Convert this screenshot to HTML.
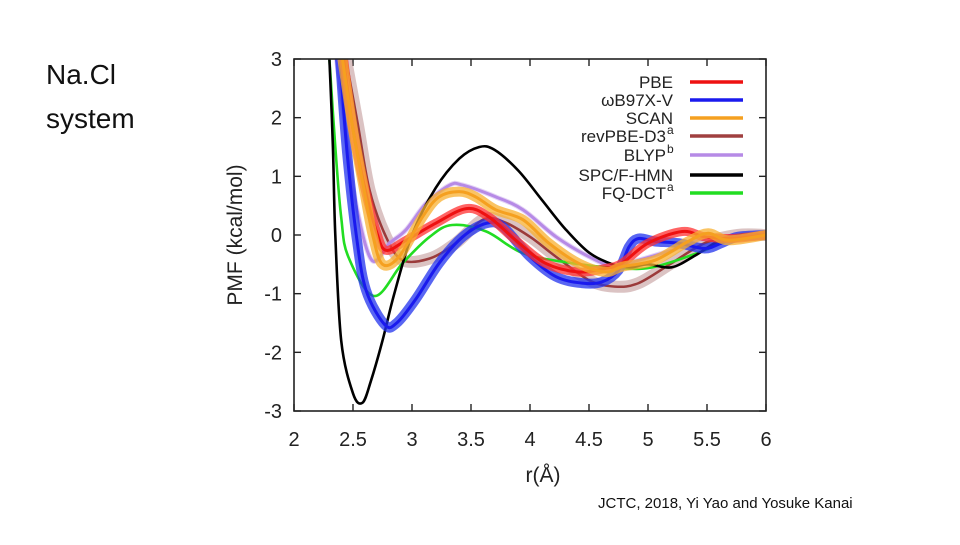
<!DOCTYPE html>
<html><head><meta charset="utf-8"><style>
body{margin:0;background:#fff;}
svg text{font-family:"Liberation Sans",sans-serif;}
</style></head><body>
<svg id="chart" width="960" height="540" viewBox="0 0 960 540" xmlns="http://www.w3.org/2000/svg">
<text x="46" y="84" font-size="28" fill="#111">Na.Cl</text>
<text x="46" y="128" font-size="28" fill="#111">system</text>
<text x="598" y="508" font-size="15" fill="#111">JCTC, 2018, Yi Yao and Yosuke Kanai</text>
<defs><clipPath id="clip"><rect x="294" y="59" width="472" height="352"/></clipPath></defs>
<g id="axes"></g>
<g id="series" clip-path="url(#clip)"></g>
<rect x="294" y="59" width="472" height="352" fill="none" stroke="#222" stroke-width="1.6"/>
<g id="legend"></g>
<text x="543" y="482" font-size="21" text-anchor="middle" fill="#222">r(Å)</text>
<text transform="translate(242,235) rotate(-90)" font-size="21" text-anchor="middle" fill="#222">PMF (kcal/mol)</text>
</svg>
<script>
const xTicks=[2,2.5,3,3.5,4,4.5,5,5.5,6];
const xTickLabels=["2","2.5","3","3.5","4","4.5","5","5.5","6"];
const yTicks=[-3,-2,-1,0,1,2,3];
const yTickLabels=["-3","-2","-1","0","1","2","3"];
const pbeX=[2.42,2.5,2.6,2.7,2.78,2.95,3.2,3.46,3.65,3.88,4.13,4.41,4.64,4.78,5.0,5.29,5.48,5.71,6];
const pbeY=[3,1.8,0.8,0.05,-0.26,-0.09,0.2,0.45,0.31,-0.09,-0.48,-0.63,-0.57,-0.48,-0.14,0.06,-0.03,-0.06,0];
const wbX=[2.39,2.45,2.53,2.61,2.77,2.87,3.03,3.23,3.43,3.63,3.77,4.0,4.22,4.44,4.61,4.75,4.84,4.92,5.06,5.26,5.48,5.62,5.76,6];
const wbY=[3,1.4,-0.03,-0.94,-1.53,-1.5,-1.1,-0.48,-0.03,0.2,0.14,-0.37,-0.71,-0.82,-0.8,-0.6,-0.2,-0.06,-0.11,-0.14,-0.23,-0.14,-0.03,0];
const scanX=[2.41,2.5,2.6,2.67,2.75,2.89,3.09,3.23,3.4,3.54,3.71,3.94,4.16,4.41,4.64,4.78,5.06,5.34,5.51,5.68,6];
const scanY=[3,1.8,0.7,-0.03,-0.5,-0.37,0.31,0.65,0.74,0.65,0.43,0.26,-0.14,-0.48,-0.63,-0.54,-0.43,-0.11,0.03,-0.09,0];
const revX=[2.44,2.54,2.64,2.78,2.92,3.15,3.37,3.6,3.77,4.0,4.22,4.5,4.72,4.92,5.2,5.48,5.76,6];
const revY=[3,1.9,0.77,-0.03,-0.43,-0.4,-0.14,0.26,0.23,-0.03,-0.37,-0.77,-0.88,-0.82,-0.48,-0.14,0,0];
const blypX=[2.36,2.45,2.53,2.66,2.81,2.95,3.12,3.32,3.43,3.71,3.94,4.22,4.5,4.72,4.92,5.2,5.48,6];
const blypY=[3,1.6,0.48,-0.43,-0.14,0.09,0.54,0.85,0.85,0.65,0.43,-0.03,-0.37,-0.54,-0.43,-0.26,-0.06,0];
const spcX=[2.3,2.33,2.35,2.4,2.5,2.58,2.65,2.75,2.85,3.0,3.2,3.4,3.57,3.7,3.9,4.1,4.3,4.5,4.7,4.85,5.0,5.2,5.4,5.6,5.8,6];
const spcY=[3,1.5,0,-1.8,-2.7,-2.86,-2.5,-1.8,-1.0,0,0.8,1.3,1.5,1.45,1.1,0.6,0.1,-0.3,-0.5,-0.55,-0.5,-0.55,-0.35,-0.1,0,0];
const fqX=[2.3,2.35,2.4,2.46,2.68,2.92,3.15,3.34,3.63,3.94,4.36,4.78,5.06,5.48,5.76,6];
const fqY=[3,1.5,0.3,-0.37,-1.04,-0.48,-0.03,0.17,0.06,-0.31,-0.48,-0.57,-0.54,-0.26,0,0];

const NS="http://www.w3.org/2000/svg";
const X0=294,X1=766,Y0=411,Y1=59;
function sx(v){return X0+(v-2)/4*(X1-X0);}
function sy(v){return Y0-(v+3)/6*(Y0-Y1);}
function pathFrom(xs,ys){
  const p=xs.map((x,i)=>[sx(x),sy(ys[i])]);
  let d="M"+p[0][0].toFixed(1)+","+p[0][1].toFixed(1);
  for(let i=0;i<p.length-1;i++){
    const a=p[Math.max(0,i-1)],b=p[i],c=p[i+1],e=p[Math.min(p.length-1,i+2)];
    const c1=[b[0]+(c[0]-a[0])/6,b[1]+(c[1]-a[1])/6],c2=[c[0]-(e[0]-b[0])/6,c[1]-(e[1]-b[1])/6];
    d+=" C"+c1.map(v=>v.toFixed(1))+" "+c2.map(v=>v.toFixed(1))+" "+c[0].toFixed(1)+","+c[1].toFixed(1);
  }
  return d;
}
const axes=document.getElementById('axes');
xTicks.forEach((t,i)=>{
  const l=document.createElementNS(NS,'line');
  l.setAttribute('x1',sx(t));l.setAttribute('x2',sx(t));l.setAttribute('y1',Y0);l.setAttribute('y2',Y0-7);
  l.setAttribute('stroke','#222');l.setAttribute('stroke-width','1.4');
  
  
  axes.appendChild(l);
  const l2=l.cloneNode();l2.setAttribute('y1',Y1);l2.setAttribute('y2',Y1+7);axes.appendChild(l2);
  const tx=document.createElementNS(NS,'text');
  tx.setAttribute('x',sx(t));tx.setAttribute('y',Y0+35);tx.setAttribute('font-size','20');tx.setAttribute('text-anchor','middle');tx.setAttribute('fill','#222');
  
  
  tx.textContent=xTickLabels[i];axes.appendChild(tx);
});
yTicks.forEach((t,i)=>{
  const l=document.createElementNS(NS,'line');
  l.setAttribute('x1',X0);l.setAttribute('x2',X0+7);l.setAttribute('y1',sy(t));l.setAttribute('y2',sy(t));
  l.setAttribute('stroke','#222');l.setAttribute('stroke-width','1.4');
  
  
  axes.appendChild(l);
  const l2=l.cloneNode();l2.setAttribute('x1',X1);l2.setAttribute('x2',X1-7);axes.appendChild(l2);
  const tx=document.createElementNS(NS,'text');
  tx.setAttribute('x',X0-12);tx.setAttribute('y',sy(t)+7);tx.setAttribute('font-size','20');tx.setAttribute('text-anchor','end');tx.setAttribute('fill','#222');
  
  
  tx.textContent=yTickLabels[i];axes.appendChild(tx);
});
const series=[
 {n:'revpbe-d3',x:revX,y:revY,c:'#9b3a3a',w:2.5,band:'#b88888',bw:12,bo:0.5},
 {n:'blyp',x:blypX,y:blypY,c:'#b68ae6',w:3,band:'#c9a8ee',bw:5,bo:0.5},
 {n:'fq-dct',x:fqX,y:fqY,c:'#22dd22',w:2.6},
 {n:'spc-f-hmn',x:spcX,y:spcY,c:'#000',w:2.6},
 {n:'wb97x-v',x:wbX,y:wbY,c:'#1a1aee',w:3,band:'#2233ee',bw:10,bo:0.75},
 {n:'pbe',x:pbeX,y:pbeY,c:'#ee1111',w:3,band:'#ff3030',bw:9,bo:0.75},
 {n:'scan',x:scanX,y:scanY,c:'#f5a020',w:3,band:'#f8b030',bw:10,bo:0.75}
];
const sg=document.getElementById('series');
series.forEach(s=>{
  const d=pathFrom(s.x,s.y);
  if(s.band){
    const b=document.createElementNS(NS,'path');
    b.setAttribute('d',d);b.setAttribute('fill','none');b.setAttribute('stroke',s.band);b.setAttribute('stroke-width',s.bw);
    b.setAttribute('stroke-opacity',s.bo);b.setAttribute('stroke-linejoin','round');
    
    
    sg.appendChild(b);
  }
  const p=document.createElementNS(NS,'path');
  p.setAttribute('d',d);p.setAttribute('fill','none');p.setAttribute('stroke',s.c);p.setAttribute('stroke-width',s.w);p.setAttribute('stroke-linejoin','round');
  
  
  sg.appendChild(p);
});
const legendItems=[["PBE","#ee1111",null],["ωB97X-V","#1a1aee",null],["SCAN","#f5a020",null],["revPBE-D3","#a04040","a"],["BLYP","#b68ae6","b"],["SPC/F-HMN","#000",null],["FQ-DCT","#22dd22","a"]];
const lg=document.getElementById('legend');
const rowY=[82,100,118,136,155,175,193];
legendItems.forEach((it,i)=>{
  const g=document.createElementNS(NS,'g');
  
  
  const t=document.createElementNS(NS,'text');
  t.setAttribute('x',it[2]?666:673);t.setAttribute('y',rowY[i]+6);t.setAttribute('font-size','17');t.setAttribute('text-anchor','end');t.setAttribute('fill','#222');
  t.textContent=it[0];g.appendChild(t);
  if(it[2]){const s=document.createElementNS(NS,'text');s.setAttribute('x',667);s.setAttribute('y',rowY[i]-2);s.setAttribute('font-size','12');s.setAttribute('fill','#222');s.textContent=it[2];g.appendChild(s);}
  const l=document.createElementNS(NS,'line');
  l.setAttribute('x1',690);l.setAttribute('x2',743);l.setAttribute('y1',rowY[i]);l.setAttribute('y2',rowY[i]);l.setAttribute('stroke',it[1]);l.setAttribute('stroke-width','3.5');
  g.appendChild(l);lg.appendChild(g);
});
</script>
</body></html>
